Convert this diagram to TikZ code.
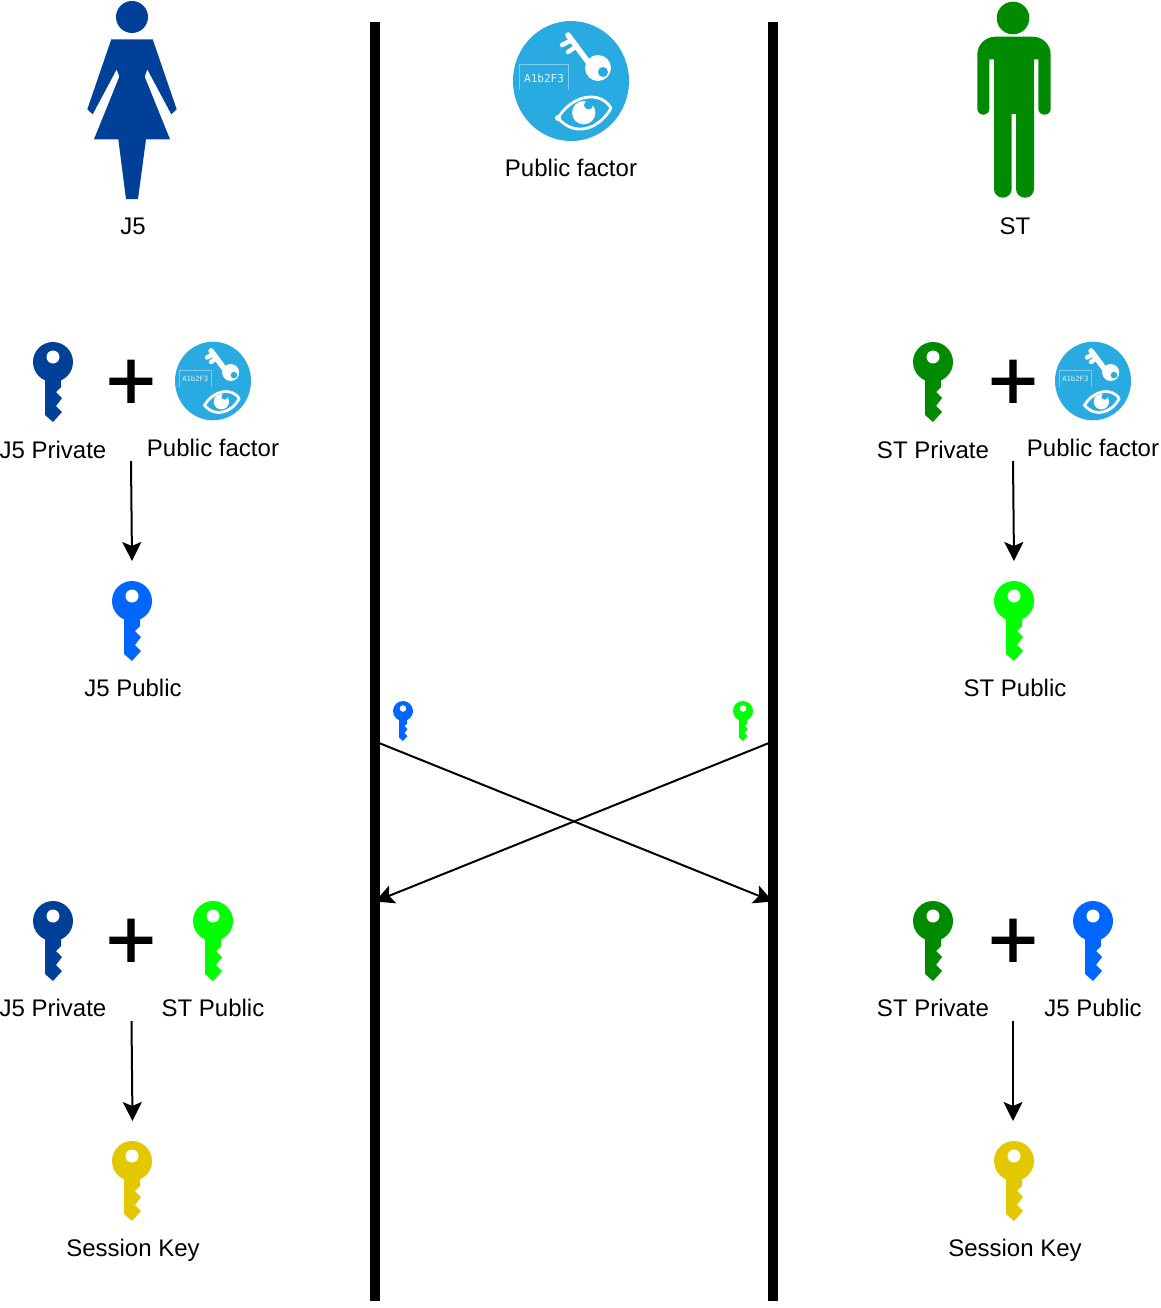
\documentclass[tikz,border=0pt]{standalone}
\usepackage{fontspec}
\setmainfont{Liberation Sans}
\newfontfamily\monofont{DejaVu Sans Mono}
\newfontfamily\plusfont[FakeBold=1.4]{Liberation Sans}
\usetikzlibrary{arrows.meta}
\definecolor{jfive}{HTML}{004099}
\definecolor{jfivepub}{HTML}{0066FF}
\definecolor{stpriv}{HTML}{008A00}
\definecolor{stpub}{HTML}{00FF00}
\definecolor{sessionkey}{HTML}{E3C800}
\definecolor{factorblue}{HTML}{29ABE2}
\tikzset{
  pics/keyicon/.style={code={
    \fill[#1] (0,-20) circle (20);
    \fill[#1] (-8,-10) -- (-8,33) -- (0,40) -- (9,30) -- (3,24) -- (9,16) -- (3,10) -- (8,5) -- (8,-10) -- cycle;
    \fill[white] (0,-25) circle (6.5);
  }},
  pics/factoricon/.style={code={
    \fill[factorblue] (0,0) ellipse (58 and 60);
    \draw[white, line width=5.5, line cap=round] (23,-11) -- (-3,-46);
    \draw[white, line width=4.5, line cap=round] (1,-41) -- (-9,-36);
    \draw[white, line width=4.5, line cap=round] (6,-35) -- (-3,-29);
    \fill[white] (27,-13) circle (13);
    \fill[factorblue] (32,-9) circle (5);
    \draw[white!40!factorblue, line width=.7] (-52,9) -- (-52,-17) -- (-3,-17) -- (-3,9);
    \node[text=white!85!factorblue, font=\monofont\fontsize{11}{13}\selectfont, transform shape, inner sep=0pt] (#1) at (-27,-3) {A1b2F3};
    \draw[white, line width=2.8, line cap=round, line join=round] (-13,37) .. controls (0,15) and (28,8) .. (40,27) .. controls (30,46) and (5,58) .. (-13,37);
    \fill[white] (-13,37) circle (3);
    \fill[white] (12.7,31.7) circle (11.7);
    \fill[factorblue] (17.5,24) circle (4.5);
  }},
  lbl/.style={font=\fontsize{24}{28}\selectfont, inner sep=0pt, text=black, text height=17pt, text depth=0pt},
  plussign/.style={font=\plusfont\fontsize{86}{86}\selectfont, inner sep=0pt, text=black},
  flow/.style={-{Stealth[length=19pt, width=19pt, inset=4pt]}, line width=2pt},
  wall/.style={line width=10pt}
}
\begin{document}
\begin{tikzpicture}[x=1pt, y=-1pt]
  \useasboundingbox (0,0) rectangle (1160,1308);

  % people
  \fill[jfive] (132,17) circle (16);
  \fill[jfive] (111.3,39.3) -- (152.7,39.3) -- (176.7,109.3) -- (171.3,114.3) -- (147.3,69.3) -- (144.7,76.7) -- (170,139.3) -- (146,139.3) -- (138,199) -- (126,199) -- (118.3,139.3) -- (94,139.3) -- (119.3,76.7) -- (116.7,69.3) -- (92.7,114.3) -- (87.3,109.3) -- cycle;
  \fill[stpriv] (1013,18) circle (16.3);
  \fill[stpriv] (994,59.3) -- (989.3,59.3) [rounded corners=6pt] -- (989.3,114.7) -- (977.3,114.7) [rounded corners=18pt] -- (977.3,36.7) -- (1050.7,36.7) [rounded corners=6pt] -- (1050.7,114.7) -- (1038.3,114.7) [sharp corners] -- (1038.3,59.3) -- (1034,59.3) [rounded corners=8.8pt] -- (1034,197.7) -- (1016,197.7) [sharp corners] -- (1016,114) -- (1011.7,114) [rounded corners=8.8pt] -- (1011.7,197.7) -- (994,197.7) [sharp corners] -- cycle;

  % walls
  \coordinate (wl1) at (375,22);
  \coordinate (wl2) at (375,1301);
  \coordinate (wr1) at (773,22);
  \coordinate (wr2) at (773,1301);
  \draw[wall] (wl1) -- (wl2);
  \draw[wall] (wr1) -- (wr2);

  % icons
  \pic at (571,81) {factoricon=f1};
  \pic[scale=.655] at (213,381) {factoricon=f2};
  \pic[scale=.655] at (1093,381) {factoricon=f3};

  \pic at (53,382) {keyicon=jfive};
  \pic at (933,382) {keyicon=stpriv};
  \pic at (132,621) {keyicon=jfivepub};
  \pic at (1014,621) {keyicon=stpub};
  \pic[scale=.5] at (403,721) {keyicon=jfivepub};
  \pic[scale=.5] at (743,721) {keyicon=stpub};
  \pic at (53,941) {keyicon=jfive};
  \pic at (213,941) {keyicon=stpub};
  \pic at (933,941) {keyicon=stpriv};
  \pic at (1093,941) {keyicon=jfivepub};
  \pic at (132,1181) {keyicon=sessionkey};
  \pic at (1014,1181) {keyicon=sessionkey};

  \node[plussign] (p1) at (131,385) {+};
  \node[plussign] (p2) at (1013,385) {+};
  \node[plussign] (p3) at (131,944) {+};
  \node[plussign] (p4) at (1013,944) {+};

  % labels
  \node[lbl] (l1) at (133,226) {J5};
  \node[lbl] (l2) at (1015,226) {ST};
  \node[lbl] (l3) at (571,168) {Public factor};
  \node[lbl] (l4) at (53,450) {J5 Private};
  \node[lbl] (l5) at (213,448) {Public factor};
  \node[lbl] (l6) at (933,450) {ST Private};
  \node[lbl] (l7) at (1093,448) {Public factor};
  \node[lbl] (l8) at (133,688) {J5 Public};
  \node[lbl] (l9) at (1015,688) {ST Public};
  \node[lbl] (l10) at (53,1008) {J5 Private};
  \node[lbl] (l11) at (213,1008) {ST Public};
  \node[lbl] (l12) at (933,1008) {ST Private};
  \node[lbl] (l13) at (1093,1008) {J5 Public};
  \node[lbl] (l14) at (133,1248) {Session Key};
  \node[lbl] (l15) at (1015,1248) {Session Key};

  % arrow ends
  \coordinate (a1) at (131,461);
  \coordinate (b1) at (132,561);
  \coordinate (a2) at (1013,461);
  \coordinate (b2) at (1014,561);
  \coordinate (a3) at (131.5,1021);
  \coordinate (b3) at (132.5,1121);
  \coordinate (a4) at (1013,1021);
  \coordinate (b4) at (1013,1121);
  \coordinate (a5) at (379,743);
  \coordinate (b5) at (773,901.5);
  \coordinate (a6) at (769,743);
  \coordinate (b6) at (375,901.5);

  \foreach \from/\to in {a1/b1, a2/b2, a3/b3, a4/b4, a5/b5, a6/b6}
    \draw[flow] (\from) -- (\to);
\end{tikzpicture}
\end{document}
